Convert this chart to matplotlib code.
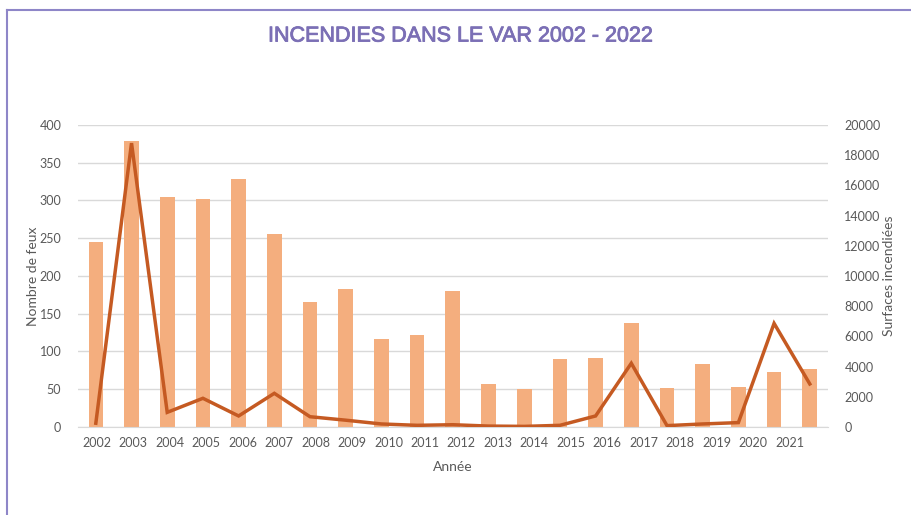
import matplotlib
matplotlib.use("Agg")
import matplotlib.pyplot as plt
import matplotlib.patheffects as pe
import numpy as np
from matplotlib.lines import Line2D

years = [str(y) for y in range(2002, 2023)]
tick_labels = [str(y) for y in range(2002, 2022)]
nb_feux = [245, 379, 304, 302, 328, 256, 165, 183, 117, 122, 180, 57, 50, 90, 91, 138, 52, 83, 53, 73, 77]
surfaces = [250, 18800, 970, 1900, 730, 2230, 680, 450, 200, 110, 150, 60, 40, 110, 730, 4220, 90, 200, 290, 6860, 2850]

plt.rcParams['font.family'] = ['Lato', 'DejaVu Sans']

fig = plt.figure(figsize=(9.12, 5.15), dpi=100)
ax = fig.add_axes([0.0855, 0.1709, 0.822, 0.5864])
x = np.arange(len(years))
ax.bar(x, nb_feux, width=0.41, color='#F4AE7E', zorder=2)
ax.set_xlim(-0.5, len(years) - 0.5)
ax.set_ylim(0, 400)
ax.set_yticks(np.arange(0, 401, 50))
ax.grid(axis='y', color='#D9D9D9', linewidth=1, zorder=0)
ax.set_axisbelow(True)
for s in ['top', 'right', 'left']:
    ax.spines[s].set_visible(False)
ax.spines['bottom'].set_color('#D9D9D9')
ax.tick_params(axis='both', length=0, labelsize=9, colors='#595959', pad=7)
ax.set_xticks(np.arange(len(tick_labels)) * 1.021 + 0.03)
ax.set_xticklabels(tick_labels)
ax.tick_params(axis='y', pad=12)
ax.set_ylabel('Nombre de feux', fontsize=10, color='#595959', labelpad=0)
ax.set_xlabel('Année', fontsize=10, color='#595959', labelpad=9)

ax2 = ax.twinx()
ax2.plot(x, surfaces, color='#C55A22', linewidth=2.5, zorder=3, solid_joinstyle='miter')
ax2.set_ylim(0, 20000)
ax2.set_yticks(np.arange(0, 20001, 2000))
for s in ['top', 'right', 'left', 'bottom']:
    ax2.spines[s].set_visible(False)
ax2.tick_params(axis='y', length=0, labelsize=9, colors='#595959', pad=12)
ax2.set_ylabel('Surfaces incendiées', fontsize=10, color='#595959', labelpad=2)

fig.text(0.505, 0.93, 'INCENDIES DANS LE VAR 2002 - 2022', ha='center', va='center',
         fontsize=15.5, color='#7B6FB5', family=['Liberation Sans', 'DejaVu Sans'],
         path_effects=[pe.withStroke(linewidth=0.6, foreground='#7B6FB5')])

fig.add_artist(Line2D([7.5/912, 1.0], [1 - 9.5/515, 1 - 9.5/515], color='#8E86C8', linewidth=1.5, transform=fig.transFigure))
fig.add_artist(Line2D([7.5/912, 7.5/912], [0, 1 - 9.5/515], color='#8E86C8', linewidth=1.5, transform=fig.transFigure))

fig.savefig('out.png', dpi=100)
